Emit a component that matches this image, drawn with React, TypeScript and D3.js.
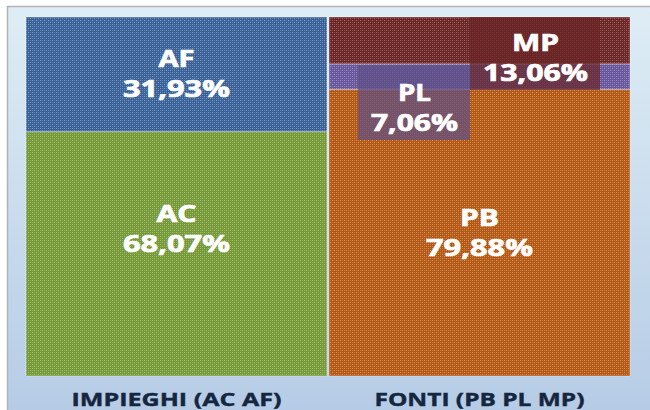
import React from "react";
import * as d3 from "d3";

const categories = ["IMPIEGHI (AC AF)", "FONTI (PB PL MP)"];
// stacked from bottom to top
const impieghiNames = ["AC", "AF"];
const impieghiValues = [68.07, 31.93];
const fontiNames = ["PB", "PL", "MP"];
const fontiValues = [79.88, 7.06, 13.06];

const W = 650;
const H = 410;
const plot = { left: 26, right: 630, top: 17, bottom: 376 };

const colors: Record<string, [string, string]> = {
  AF: ["#3a6196", "#7d9cc8"],
  AC: ["#759839", "#a6c075"],
  PB: ["#b35813", "#d39565"],
  PL: ["#67579a", "#9c91c8"],
  MP: ["#6a2626", "#a06666"],
};

// text widths (reference text is horizontally stretched)
const labelWidth: Record<string, [number, number]> = {
  AF: [36, 107],
  AC: [40, 107],
  PB: [39, 107],
  PL: [33, 87],
  MP: [47, 105],
};

const fmt = (v: number) => v.toFixed(2).replace(".", ",") + "%";

export default function App() {
  const x = d3
    .scaleBand<string>()
    .domain(categories)
    .range([plot.left, plot.right])
    .paddingInner(0.0066);
  const y = d3.scaleLinear().domain([0, 100]).range([plot.bottom, plot.top]);

  const groups = [
    { cat: categories[0], names: impieghiNames, values: impieghiValues },
    { cat: categories[1], names: fontiNames, values: fontiValues },
  ];

  const segs: {
    name: string;
    value: number;
    x0: number;
    w: number;
    y0: number;
    y1: number;
  }[] = [];
  groups.forEach((g) => {
    let acc = 0;
    g.names.forEach((n, i) => {
      const v = g.values[i];
      segs.push({
        name: n,
        value: v,
        x0: x(g.cat)!,
        w: x.bandwidth(),
        y0: y(acc + v),
        y1: y(acc),
      });
      acc += v;
    });
  });

  const labelPos: Record<string, { dx: number; dy: number }> = {
    AF: { dx: 0, dy: 0 },
    AC: { dx: 0, dy: -25 },
    PB: { dx: 0, dy: 0 },
    PL: { dx: -65, dy: 31 },
    MP: { dx: 56, dy: 18 },
  };
  const boxes: Record<string, { x: number; y: number; w: number; h: number }> = {
    PL: { x: 358, y: 65, w: 112, h: 75 },
    MP: { x: 470, y: 17, w: 130, h: 73 },
  };

  return (
    <svg
      width={W}
      height={H}
      style={{ position: "absolute", left: 0, top: 0, display: "block" }}
      fontFamily="'Open Sans', 'DejaVu Sans', sans-serif"
    >
      <defs>
        <linearGradient id="bg" x1="0" y1="0" x2="0" y2="1">
          <stop offset="0" stopColor="#deedf5" />
          <stop offset="1" stopColor="#b6cce6" />
        </linearGradient>
        {Object.entries(colors).map(([k, [base, dot]]) => (
          <pattern
            key={k}
            id={"pat-" + k}
            width={4}
            height={4}
            patternUnits="userSpaceOnUse"
          >
            <rect width={4} height={4} fill={base} />
            <rect x={0} y={0} width={1} height={1} fill={dot} />
            <rect x={2} y={0} width={1} height={1} fill={dot} opacity={0.6} />
            <rect x={0} y={2} width={1} height={1} fill={dot} opacity={0.6} />
            <rect x={2} y={2} width={1} height={1} fill={dot} />
          </pattern>
        ))}
      </defs>
      <rect x={0} y={0} width={W} height={H} fill="#ffffff" />
      <rect x={7} y={6} width={W - 7} height={H - 6} fill="url(#bg)" />
      <line x1={7} y1={6.5} x2={W} y2={6.5} stroke="#b3b3b3" strokeWidth={1.5} />
      <line x1={7.5} y1={6} x2={7.5} y2={H} stroke="#b3b3b3" strokeWidth={1.5} />

      {segs.map((s) => (
        <rect
          key={s.name}
          x={s.x0}
          y={s.y0}
          width={s.w}
          height={s.y1 - s.y0}
          fill={`url(#pat-${s.name})`}
          stroke="rgba(255,255,255,0.35)"
          strokeWidth={1}
        />
      ))}

      {Object.entries(boxes).map(([k, b]) => (
        <rect
          key={"box" + k}
          x={b.x}
          y={b.y}
          width={b.w}
          height={b.h}
          fill={k === "PL" ? "#5e4f85" : colors[k][0]}
          opacity={0.72}
        />
      ))}

      {segs.map((s) => {
        const cx = s.x0 + s.w / 2 + labelPos[s.name].dx;
        const cy = (s.y0 + s.y1) / 2 + labelPos[s.name].dy;
        const [w1, w2] = labelWidth[s.name];
        return (
          <g
            key={"lab" + s.name}
            fill="#ffffff"
            stroke="#ffffff"
            strokeWidth={0.7}
            fontWeight="bold"
            fontSize={23}
          >
            <text
              x={cx - w1 / 2}
              y={cy - 7}
              textLength={w1}
              lengthAdjust="spacingAndGlyphs"
            >
              {s.name}
            </text>
            <text
              x={cx - w2 / 2}
              y={cy + 23}
              textLength={w2}
              lengthAdjust="spacingAndGlyphs"
            >
              {fmt(s.value)}
            </text>
          </g>
        );
      })}

      {categories.map((c) => (
        <text
          key={c}
          x={x(c)! + x.bandwidth() / 2 - 105}
          y={406}
          textLength={210}
          lengthAdjust="spacingAndGlyphs"
          fontSize={18}
          fontWeight="bold"
          fill="#15263f"
          stroke="#15263f"
          strokeWidth={0.4}
        >
          {c}
        </text>
      ))}
    </svg>
  );
}
